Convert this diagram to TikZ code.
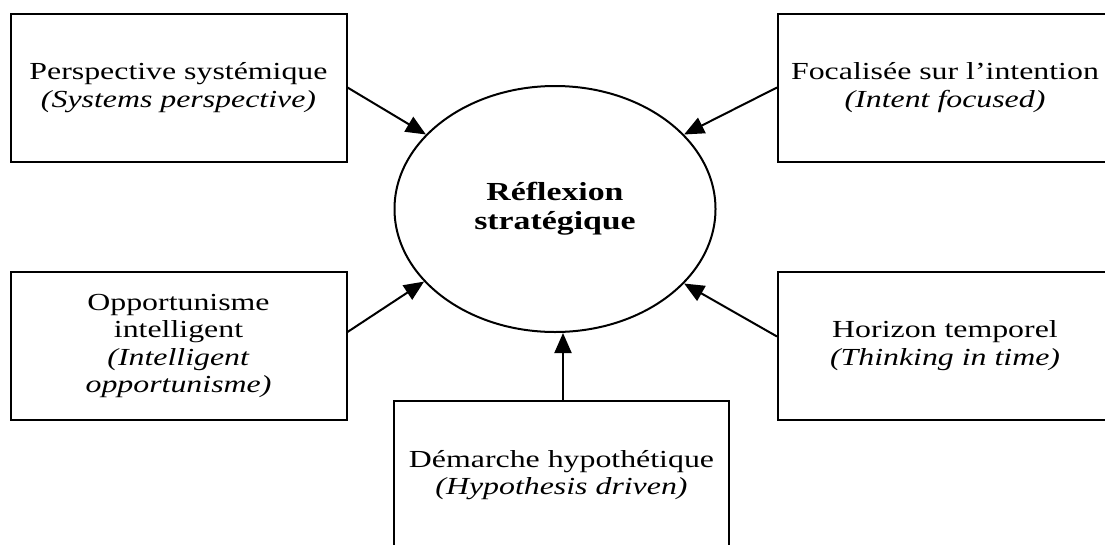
\documentclass[tikz,border=0pt]{standalone}
\usepackage{fontspec}
\setmainfont{Liberation Serif}[FakeStretch=1.3]
\usetikzlibrary{shapes.geometric,arrows.meta}
\tikzset{
  box/.style={draw, line width=2pt, minimum width=336pt, minimum height=148pt, align=center, inner sep=0pt, font=\fontsize{24.5}{27.5}\selectfont},
  hub/.style={draw, ellipse, line width=2pt, minimum width=321pt, minimum height=246pt, inner sep=0pt, align=center, font=\fontsize{26}{29}\selectfont\bfseries},
  arr/.style={line width=2pt, -{Triangle[length=20pt,width=17pt]}}
}
\begin{document}
\begin{tikzpicture}[x=1pt,y=-1pt]
\useasboundingbox (0,0) rectangle (1105,544);
\clip (0,0) rectangle (1105,544);
\node[hub] (ell) at (555,209) {Réflexion\\stratégique};
\node[box] (b1) at (178.5,87.5) {Perspective systémique\\\textit{(Systems perspective)}};
\node[box, minimum width=334pt] (b2) at (945,87.5) {Focalisée sur l’intention\\\textit{(Intent focused)}};
\node[box] (b3) at (178.5,346) {Opportunisme\\intelligent\\\textit{(Intelligent}\\\textit{opportunisme)}};
\node[box, minimum width=334pt] (b4) at (945,345.5) {Horizon temporel\\\textit{(Thinking in time)}};
\node[box, minimum width=335pt] (b5) at (561.5,475) {Démarche hypothétique\\\textit{(Hypothesis driven)}};
\draw[arr] (b1.east) -- (ell.150);
\draw[arr] (b2.west) -- (ell.30);
\draw[arr] ([yshift=14pt]b3.east) -- (ell.209);
\draw[arr] ([yshift=9pt]b4.west) -- (ell.-30);
\coordinate (t5) at (563,333);
\draw[arr] (b5.north -| t5) -- (t5);
\end{tikzpicture}
\end{document}
